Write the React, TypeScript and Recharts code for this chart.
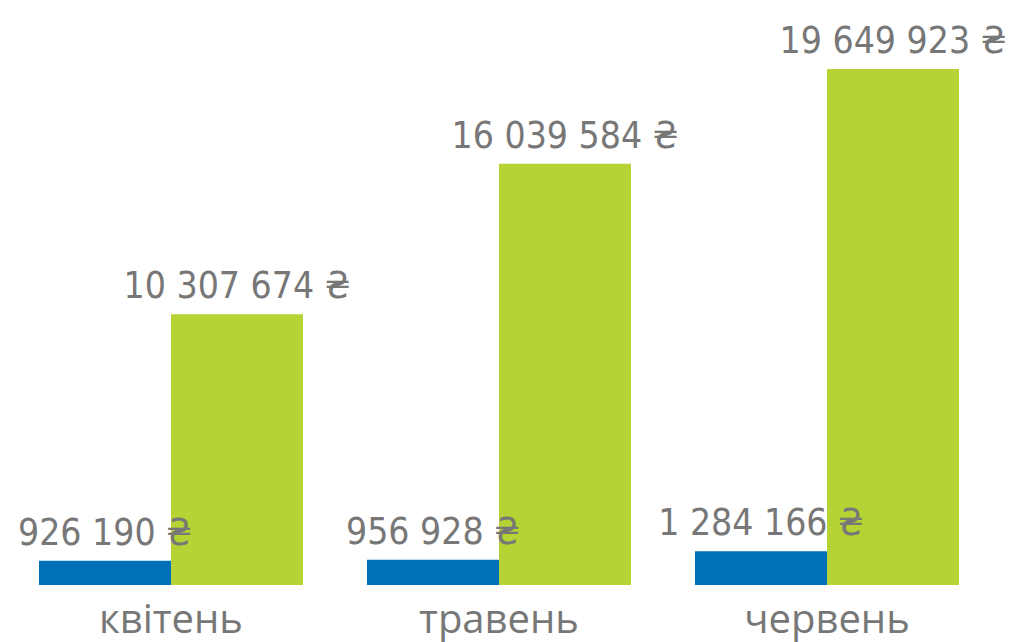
import { BarChart, Bar, XAxis, YAxis, LabelList } from 'recharts';

const months = ['квітень', 'травень', 'червень'];
const blueValues = [926190, 956928, 1284166];
const greenValues = [10307674, 16039584, 19649923];

const data = months.map((m, i) => ({ name: m, blue: blueValues[i], green: greenValues[i] }));

const fmt = (v: number) => v.toString().replace(/\B(?=(\d{3})+(?!\d))/g, ' ') + ' ₴';

const labelStyle = {
  fill: '#777777',
  fontFamily: '"DejaVu Sans Condensed", "DejaVu Sans", sans-serif',
  fontSize: 37,
};

export default function App() {
  return (
    <div style={{ position: 'absolute', left: 0, top: 0, background: '#fff' }}>
      <BarChart
        width={1035}
        height={642}
        data={data}
        margin={{ top: 69, right: 44, bottom: 0, left: 7 }}
        barCategoryGap={32}
        barGap={0}
      >
        <XAxis
          dataKey="name"
          height={57}
          axisLine={false}
          tickLine={false}
          tick={{ fill: '#777777', fontSize: 40, fontFamily: '"Open Sans", sans-serif' }}
          dy={12}
          interval={0}
        />
        <YAxis hide domain={[0, 'dataMax']} />
        <Bar dataKey="blue" fill="#0070b8" isAnimationActive={false}>
          <LabelList dataKey="blue" position="top" offset={16} formatter={fmt} style={labelStyle} />
        </Bar>
        <Bar dataKey="green" fill="#b5d334" isAnimationActive={false}>
          <LabelList dataKey="green" position="top" offset={16} formatter={fmt} style={labelStyle} />
        </Bar>
      </BarChart>
    </div>
  );
}
